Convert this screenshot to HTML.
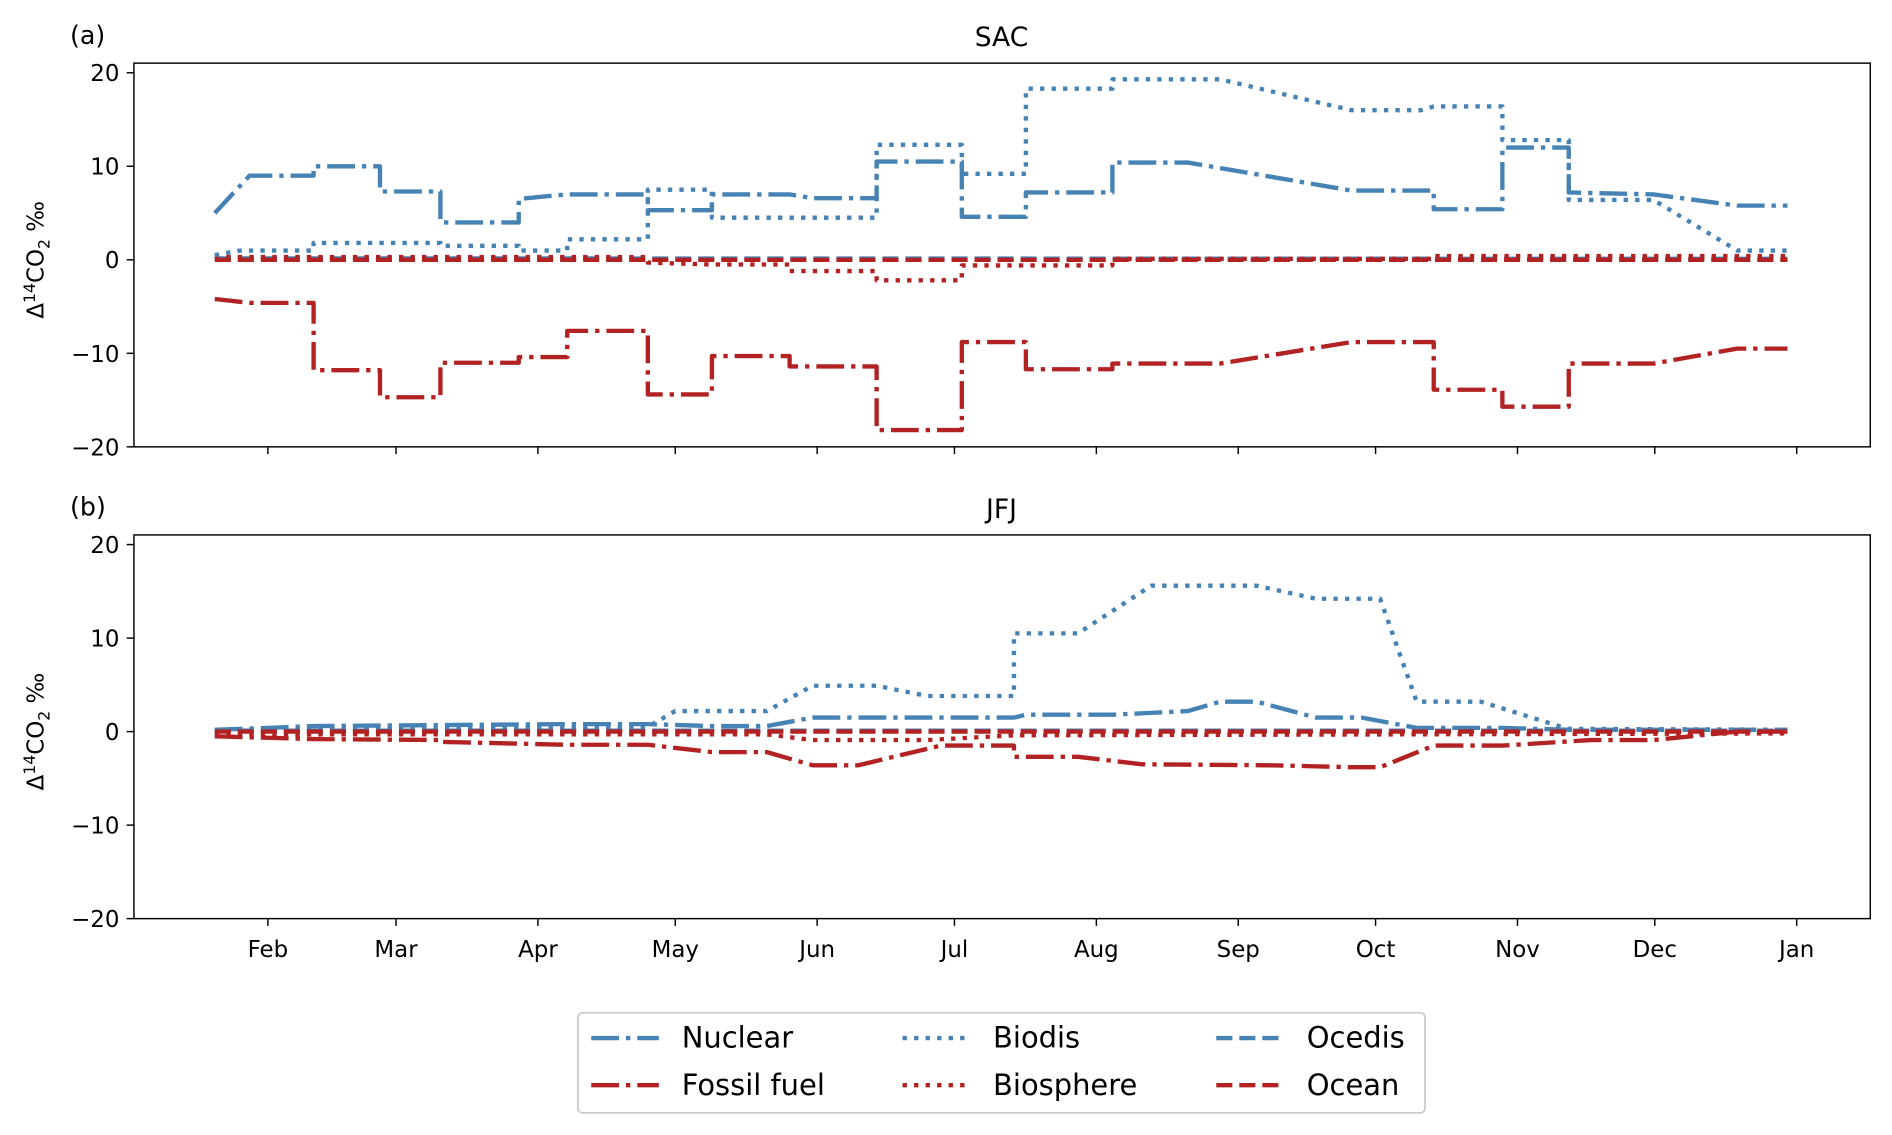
<!DOCTYPE html>
<html><head><meta charset="utf-8"><style>
html,body{margin:0;padding:0;background:#fff;}
svg{display:block;font-family:"DejaVu Sans","Liberation Sans",sans-serif;}
</style></head><body>
<svg id="chart" width="1892" height="1135" viewBox="0 0 1568 940" xmlns="http://www.w3.org/2000/svg">
<rect width="1568" height="940" fill="#fff"/>
<g id="root"></g>
</svg>
<script>
const months = ["Feb","Mar","Apr","May","Jun","Jul","Aug","Sep","Oct","Nov","Dec","Jan"];
const monthDays = [31,59,90,120,151,181,212,243,273,304,334,365];
const yTicks = [-20,-10,0,10,20];

const sacNuclearDays = [19.4,27,41,41,55.5,55.5,68.7,68.7,85.8,85.8,92,96.4,114,114,128,128,145,150,164,164,182.6,182.6,196.6,196.6,215.5,215.5,232,267.7,285.7,285.7,300.7,300.7,315.2,315.2,333.7,352,363];
const sacNuclearVals = [5,9,9,10,10,7.3,7.3,4,4,6.5,6.8,7,7,5.3,5.3,7,7,6.6,6.6,10.5,10.5,4.6,4.6,7.2,7.2,10.4,10.4,7.4,7.4,5.4,5.4,12,12,7.2,7,5.8,5.8];
const sacBiodisDays = [19.4,25,41,41,68.7,68.7,85.8,85.8,96.4,96.4,114,114,128,128,164,164,182.6,182.6,196.6,196.6,215.5,215.5,239,267.7,283,285.7,300.7,300.7,315.2,315.2,333.7,352,363];
const sacBiodisVals = [0.5,1,1,1.8,1.8,1.5,1.5,1,1,2.2,2.2,7.5,7.5,4.5,4.5,12.3,12.3,9.2,9.2,18.3,18.3,19.3,19.3,16,16,16.4,16.4,12.8,12.8,6.4,6.4,1,1];
const sacOcedisDays = [19.4,363];
const sacOcedisVals = [0.15,0.1];
const sacOceanDays = [19.4,363];
const sacOceanVals = [0,0];
const sacBiosphereDays = [19.4,114,114,128,145,145,164,164,182.6,182.6,215.5,215.5,285.7,285.7,363];
const sacBiosphereVals = [0.3,0.3,-0.3,-0.5,-0.5,-1.2,-1.2,-2.2,-2.2,-0.6,-0.6,0.1,0.1,0.4,0.4];
const sacFossilDays = [19.4,27,41,41,55.5,55.5,68.7,68.7,85.8,85.8,96.4,96.4,114,114,128,128,145,145,164,164,182.6,182.6,196.6,196.6,215.5,215.5,239,267.7,285.7,285.7,300.7,300.7,315.2,315.2,333.7,352,363];
const sacFossilVals = [-4.2,-4.6,-4.6,-11.8,-11.8,-14.7,-14.7,-11,-11,-10.4,-10.4,-7.6,-7.6,-14.4,-14.4,-10.3,-10.3,-11.4,-11.4,-18.2,-18.2,-8.8,-8.8,-11.7,-11.7,-11.1,-11.1,-8.8,-8.8,-13.9,-13.9,-15.7,-15.7,-11.1,-11.1,-9.5,-9.5];

const jfjNuclearDays = [19.4,31,41,96.4,114,128,140,150,194,196.6,215.5,232,239,247,260,270,282,300.7,315.2,363];
const jfjNuclearVals = [0.2,0.4,0.6,0.8,0.8,0.6,0.6,1.5,1.5,1.8,1.8,2.2,3.2,3.2,1.5,1.5,0.4,0.4,0.2,0.2];
const jfjBiodisDays = [19.4,114,120,140,150,164,175,194,194,208,224,247,260,274,282,296,315,363];
const jfjBiodisVals = [0.1,0.5,2.2,2.2,4.9,4.9,3.8,3.8,10.5,10.5,15.6,15.6,14.2,14.2,3.2,3.2,0.3,0.2];
const jfjOcedisDays = [19.4,363];
const jfjOcedisVals = [0.1,0.1];
const jfjOceanDays = [19.4,363];
const jfjOceanVals = [0,0];
const jfjBiosphereDays = [19.4,140,150,175,194,363];
const jfjBiosphereVals = [-0.3,-0.3,-0.9,-0.9,-0.4,-0.2];
const jfjFossilDays = [19.4,41,68.7,68.7,96.4,114,128,140,150,160,178,194,194,208,222,250,267.7,274,285.7,300.7,320,333.7,352,363];
const jfjFossilVals = [-0.5,-0.8,-0.9,-1.1,-1.4,-1.4,-2.2,-2.2,-3.6,-3.6,-1.5,-1.5,-2.7,-2.7,-3.5,-3.6,-3.8,-3.8,-1.5,-1.5,-0.9,-0.9,0,0];

const NS="http://www.w3.org/2000/svg";
const root=document.getElementById('root');
const BLUE="#4682B4", RED="#B22222", LW=3.6;
const DASH={dashdot:[6.4*LW,1.6*LW,1*LW,1.6*LW].join(','),dotted:[1*LW,1.65*LW].join(','),dashed:[3.7*LW,1.6*LW].join(',')};
const X0=111,X1=1550;
function xs(d){return 222+(d-31)*(1489-222)/(365-31);}
function mk(tag,attrs,parent){const e=document.createElementNS(NS,tag);for(const k in attrs)e.setAttribute(k,attrs[k]);(parent||root).appendChild(e);return e;}

function panel(top,label,title,series,showLabels,name){
  const g=mk('g',{});
  
  
  const bottom=top+318;
  const ys=v=>(top+8)+(20-v)*(310/40);
  series.forEach(s=>{
    const pts=s.days.map((d,i)=>xs(d).toFixed(1)+','+ys(s.vals[i]).toFixed(1)).join(' ');
    const pl=mk('polyline',{points:pts,fill:'none',stroke:s.color,'stroke-width':LW,'stroke-dasharray':DASH[s.style],'stroke-linecap':'butt','stroke-linejoin':'round'},g);
    
    
  });
  const fr=mk('rect',{x:X0,y:top,width:X1-X0,height:318,fill:'none',stroke:'#000','stroke-width':1.2},g);
  
  
  yTicks.forEach(t=>{
    const y=ys(t);
    mk('line',{x1:X0-6,x2:X0,y1:y,y2:y,stroke:'#000','stroke-width':1.2},g);
    const tx=mk('text',{x:X0-12,y:y+7,'text-anchor':'end','font-size':19,fill:'#000'},g);
    tx.textContent=(t<0?'\u2212'+(-t):t);
    
    
  });
  monthDays.forEach((d,i)=>{
    const x=xs(d);
    mk('line',{x1:x,x2:x,y1:bottom,y2:bottom+6,stroke:'#000','stroke-width':1.2},g);
    if(showLabels){
      const tx=mk('text',{x:x,y:bottom+32,'text-anchor':'middle','font-size':19,fill:'#000'},g);
      tx.textContent=months[i];
      
      
    }
  });
  const yl=mk('text',{x:0,y:0,transform:`translate(36,${ys(0)}) rotate(-90)`,'text-anchor':'middle','font-size':19,fill:'#000'},g);
  yl.innerHTML='\u0394<tspan dy="-7" font-size="13">14</tspan><tspan dy="7">CO</tspan><tspan dy="5" font-size="13">2</tspan><tspan dy="-5"> \u2030</tspan>';
  
  
  const pl=mk('text',{x:58,y:top-16,'font-size':21,fill:'#000'},g);
  pl.textContent=label;
  
  
  const tt=mk('text',{x:830,y:top-14,'text-anchor':'middle','font-size':22,fill:'#000'},g);
  tt.textContent=title;
  
  
}

panel(52,'(a)','SAC',[
 {name:'sac-ocedis',days:sacOcedisDays,vals:sacOcedisVals,color:BLUE,style:'dashed'},
 {name:'sac-ocean',days:sacOceanDays,vals:sacOceanVals,color:RED,style:'dashed'},
 {name:'sac-biosphere',days:sacBiosphereDays,vals:sacBiosphereVals,color:RED,style:'dotted'},
 {name:'sac-biodis',days:sacBiodisDays,vals:sacBiodisVals,color:BLUE,style:'dotted'},
 {name:'sac-nuclear',days:sacNuclearDays,vals:sacNuclearVals,color:BLUE,style:'dashdot'},
 {name:'sac-fossil-fuel',days:sacFossilDays,vals:sacFossilVals,color:RED,style:'dashdot'}
],false,'panel-sac');
panel(443,'(b)','JFJ',[
 {name:'jfj-ocedis',days:jfjOcedisDays,vals:jfjOcedisVals,color:BLUE,style:'dashed'},
 {name:'jfj-biosphere',days:jfjBiosphereDays,vals:jfjBiosphereVals,color:RED,style:'dotted'},
 {name:'jfj-biodis',days:jfjBiodisDays,vals:jfjBiodisVals,color:BLUE,style:'dotted'},
 {name:'jfj-nuclear',days:jfjNuclearDays,vals:jfjNuclearVals,color:BLUE,style:'dashdot'},
 {name:'jfj-fossil-fuel',days:jfjFossilDays,vals:jfjFossilVals,color:RED,style:'dashdot'},
 {name:'jfj-ocean',days:jfjOceanDays,vals:jfjOceanVals,color:RED,style:'dashed'}
],true,'panel-jfj');

const lg=mk('g',{});


mk('rect',{x:479,y:839,width:702,height:83,rx:4,fill:'#fff',stroke:'#ccc','stroke-width':1.5},lg);
const entries=[
 ['Nuclear',BLUE,'dashdot',490,860],['Biodis',BLUE,'dotted',748,860],['Ocedis',BLUE,'dashed',1008,860],
 ['Fossil fuel',RED,'dashdot',490,899],['Biosphere',RED,'dotted',748,899],['Ocean',RED,'dashed',1008,899]];
entries.forEach(e=>{
  const eg=mk('g',{},lg);
  
  
  mk('line',{x1:e[3],x2:e[3]+56,y1:e[4],y2:e[4],stroke:e[1],'stroke-width':LW,'stroke-dasharray':DASH[e[2]]},eg);
  const t=mk('text',{x:e[3]+75,y:e[4]+8,'font-size':24,fill:'#000'},eg);
  t.textContent=e[0];
});
</script>
</body></html>
